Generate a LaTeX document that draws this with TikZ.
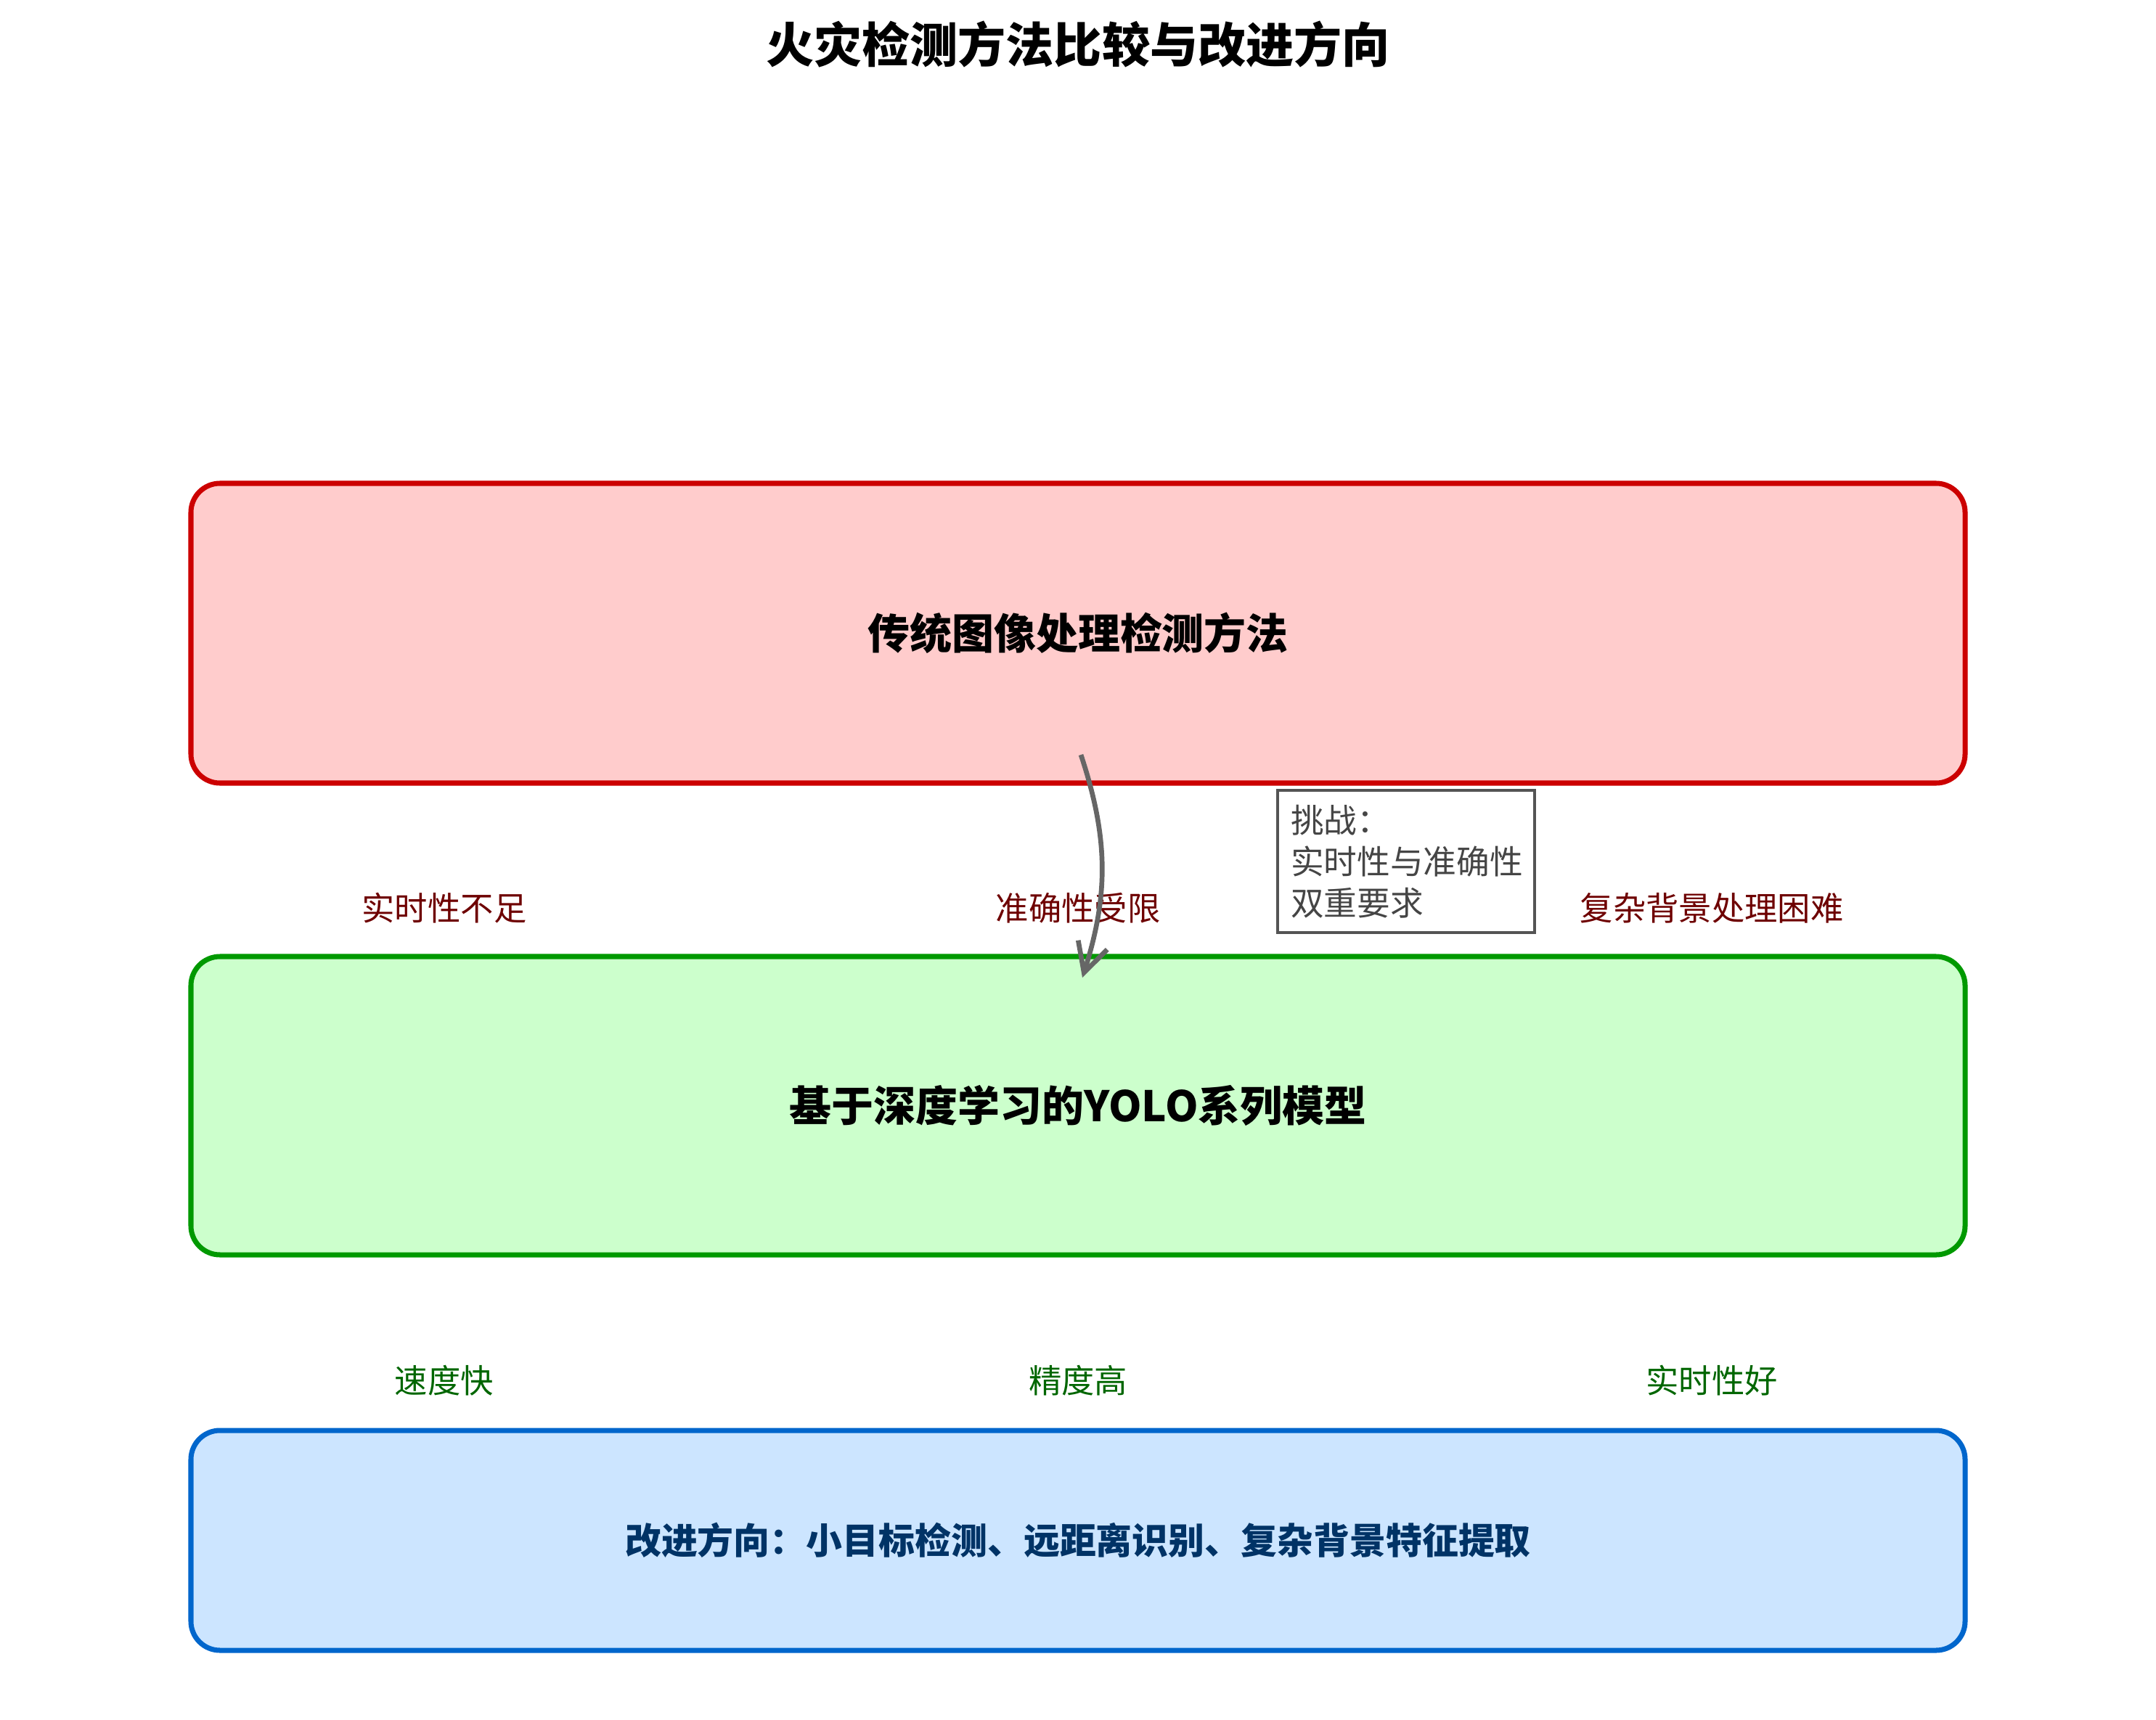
\documentclass[tikz,border=0pt]{standalone}
\usepackage{fontspec}
\setmainfont{Noto Sans CJK SC}
\usepackage{tikz}
\usetikzlibrary{arrows.meta,positioning}
\usepackage{xcolor}
\definecolor{tradline}{HTML}{CC0000}
\definecolor{tradfill}{HTML}{FFCCCC}
\definecolor{yololine}{HTML}{009900}
\definecolor{yolofill}{HTML}{CCFFCC}
\definecolor{nextline}{HTML}{0066CC}
\definecolor{nextfill}{HTML}{CCE5FF}
\definecolor{nexttext}{HTML}{003366}
\definecolor{weaktext}{HTML}{6E0000}
\definecolor{strongtext}{HTML}{006600}

\begin{document}
\begin{tikzpicture}[
    node distance=2.39cm,
    stage/.style={draw,rounded corners=0.4cm,line width=2pt,minimum width=24.44cm,outer sep=0pt,align=center,font=\fontsize{16.5}{20}\selectfont\bfseries},
    weak/.style={text=weaktext,font=\fontsize{12.9}{15}\selectfont},
    strong/.style={text=strongtext,font=\fontsize{12.9}{15}\selectfont},
    note/.style={draw=black!67,line width=1pt,text=black!73,align=left,minimum width=3.54cm,minimum height=1.96cm,text width=3.18cm,inner sep=0.18cm,font=\fontsize{13}{16.2}\selectfont},
    arr/.style={-{Straight Barb[length=4mm,width=4.2mm]},line width=1.9pt,draw=black!60}
]
\useasboundingbox (0,0) rectangle (29.7,-23.7);
\node[font=\fontsize{18.8}{22}\selectfont\bfseries] (title) at (14.85,-0.61) {火灾检测方法比较与改进方向};
\node[stage,draw=tradline,fill=tradfill,minimum height=4.13cm] (trad) at (14.85,-8.725) {传统图像处理检测方法};
\node[stage,draw=yololine,fill=yolofill,minimum height=4.11cm,below=of trad] (yolo) {基于深度学习的YOLO系列模型};
\node[stage,draw=nextline,fill=nextfill,minimum height=3.03cm,text=nexttext,font=\fontsize{14.2}{17}\selectfont\bfseries,below=2.42cm of yolo] (next) {改进方向：小目标检测、远距离识别、复杂背景特征提取};
% shortcomings of the old methods
\node[weak] (slow) at (6.12,-12.51) {实时性不足};
\node[weak] (inacc) at (14.85,-12.51) {准确性受限};
\node[weak] (clutter) at (23.58,-12.51) {复杂背景处理困难};
% strengths of YOLO
\node[strong] (fast) at (6.12,-19.02) {速度快};
\node[strong] (precise) at (14.85,-19.02) {精度高};
\node[strong] (live) at (23.58,-19.02) {实时性好};
\node[note] (challenge) at (19.37,-11.87) {挑战：\\实时性与准确性\\双重要求};
\draw[arr] ([xshift=0.04cm,yshift=0.39cm]trad.south) to[bend left=18] ([xshift=0.06cm,yshift=-0.29cm]yolo.north);
\end{tikzpicture}
\end{document}
